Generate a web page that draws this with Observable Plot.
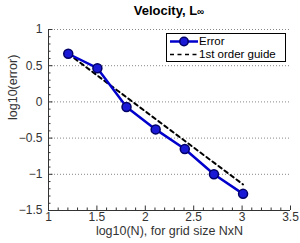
<!DOCTYPE html>
<html><head><meta charset="utf-8">
<script src="https://cdn.jsdelivr.net/npm/d3@7"></script>
<script src="https://cdn.jsdelivr.net/npm/@observablehq/plot@0.6"></script>
<style>
body{margin:0;background:#fff;font-family:"Liberation Sans",Arial,sans-serif;}
#wrap{position:relative;width:300px;height:243px;}
#title{position:absolute;left:48px;width:242px;top:3px;text-align:center;font-weight:bold;font-size:13px;color:#000;}
#chart{position:absolute;left:0;top:20px;}
#legend{position:absolute;left:166px;top:33px;width:118px;height:27px;border:1px solid #000;background:#fff;font-size:11.5px;color:#000;}
#legend .row{position:absolute;left:0;height:13px;line-height:13px;}
#legend svg{position:absolute;left:2px;top:0;}
#legend span{position:absolute;left:32px;white-space:nowrap;}
</style>
</head><body>
<div id="wrap">
<div id="title">Velocity, L<span style="font-size:10px">∞</span></div>
<div id="chart"></div>
<div id="legend"></div>
</div>
<script>
const logN = [1.204, 1.505, 1.806, 2.107, 2.408, 2.709, 3.010];
const logErr = [0.665, 0.465, -0.07, -0.38, -0.65, -1.0, -1.27];
const guideX = [1.204, 3.010];
const guideY = [0.665, -1.14];
const xTicks = [1, 1.5, 2, 2.5, 3, 3.5];
const yTicks = [-1.5, -1, -0.5, 0, 0.5, 1];
const seriesNames = ["Error", "1st order guide"];
const xLabel = "log10(N), for grid size NxN";
const yLabel = "log10(error)";

const fmt = d => String(d).replace("-", "\u2212");
const err = logN.map((x, i) => ({x, y: logErr[i]}));
const guide = guideX.map((x, i) => ({x, y: guideY[i]}));
const xMinor = d3.range(10, 36).map(d => d / 10).filter(d => !xTicks.some(t => Math.abs(t - d) < 1e-9));
const yMinor = d3.range(-15, 11).map(d => d / 10).filter(d => !yTicks.some(t => Math.abs(t - d) < 1e-9));

const chart = Plot.plot({
  width: 300, height: 223,
  marginTop: 9, marginBottom: 33, marginLeft: 48, marginRight: 10,
  x: {domain: [1, 3.5]},
  y: {domain: [-1.5, 1]},
  style: {fontFamily: "'Liberation Sans', Arial, sans-serif", fontSize: "12px", color: "#222", background: "#fff"},
  marks: [
    Plot.gridY([-1, -0.5, 0, 0.5, 1], {stroke: "#888", strokeOpacity: 1, strokeDasharray: "1,2"}),
    Plot.axisX(xMinor, {tickSize: -2.5, text: null, label: null, stroke: "#333"}),
    Plot.axisX(xTicks, {tickSize: -4.5, tickPadding: 6, tickFormat: fmt, label: null, stroke: "#333", fill: "#333"}),
    Plot.axisY(yMinor, {tickSize: -2.5, text: null, label: null, stroke: "#333"}),
    Plot.axisY(yTicks, {tickSize: -4.5, tickPadding: 10.5, tickFormat: fmt, label: null, stroke: "#333", fill: "#333"}),
    Plot.ruleY([-1.5], {stroke: "#333"}),
    Plot.ruleX([1], {stroke: "#333"}),
    Plot.text([xLabel], {frameAnchor: "bottom", dy: 24, fontSize: 12.5, fill: "#333"}),
    Plot.text([yLabel], {frameAnchor: "left", dx: -36, rotate: -90, fontSize: 12.5, fill: "#333"}),
    Plot.line(guide, {x: "x", y: "y", stroke: "#000", strokeWidth: 2, strokeDasharray: "4,3.5"}),
    Plot.line(err, {x: "x", y: "y", stroke: "#0000cc", strokeWidth: 2.5}),
    Plot.dot(err, {x: "x", y: "y", r: 4.5, fill: "#1a1ad6", stroke: "#000066", strokeWidth: 1.5})
  ]
});
document.getElementById("chart").appendChild(chart);

const lg = document.getElementById("legend");
lg.innerHTML = `
<div class="row" style="top:1px;width:118px">
  <svg width="30" height="13"><line x1="1" y1="6.5" x2="29" y2="6.5" stroke="#0000cc" stroke-width="2.5"/><circle cx="15" cy="6.5" r="4.2" fill="#1a1ad6" stroke="#000066" stroke-width="1.5"/></svg>
  <span>${seriesNames[0]}</span></div>
<div class="row" style="top:14px;width:118px">
  <svg width="30" height="13"><line x1="1" y1="6.5" x2="29" y2="6.5" stroke="#000" stroke-width="1.5" stroke-dasharray="4,3.5"/></svg>
  <span>${seriesNames[1]}</span></div>`;
</script>
</body></html>
